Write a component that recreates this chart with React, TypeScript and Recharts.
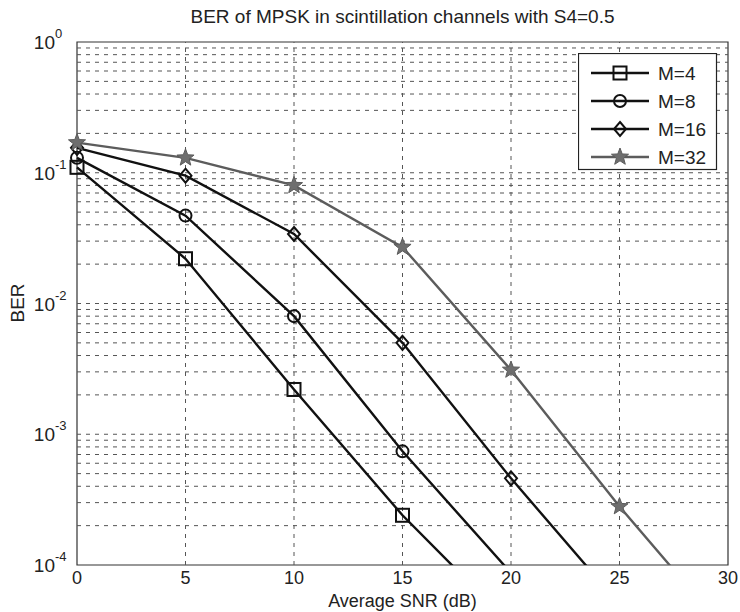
import React from 'react';
import {
  LineChart,
  Line,
  XAxis,
  YAxis,
  ReferenceLine,
  ReferenceArea,
} from 'recharts';

const snr = [0, 5, 10, 15, 20, 25, 30];
const berM4 = [0.11, 0.022, 0.0022, 0.00024, 0.000035, null, null];
const berM8 = [0.13, 0.047, 0.008, 0.00074, 0.000087, null, null];
const berM16 = [0.155, 0.095, 0.034, 0.005, 0.00046, 0.00005, null];
const berM32 = [0.17, 0.13, 0.08, 0.027, 0.0031, 0.00028, 0.00003];

const xTicks = [0, 5, 10, 15, 20, 25, 30];
const yTicks = [1e-4, 1e-3, 1e-2, 1e-1, 1];
const yMinor = [2, 3, 4, 5, 6, 7, 8, 9];

const data = snr.map((x, i) => ({
  snr: x,
  m4: berM4[i],
  m8: berM8[i],
  m16: berM16[i],
  m32: berM32[i],
}));

const series = [
  { key: 'm4', name: 'M=4', marker: 'square', color: '#111' },
  { key: 'm8', name: 'M=8', marker: 'circle', color: '#111' },
  { key: 'm16', name: 'M=16', marker: 'diamond', color: '#111' },
  { key: 'm32', name: 'M=32', marker: 'star', color: '#5c5c5c' },
];

const FONT = '"Liberation Sans", Arial, sans-serif';

const gridLines: number[] = [];
for (let e = -4; e < 0; e++) {
  yMinor.forEach((m) => gridLines.push(m * Math.pow(10, e)));
  if (e > -4) gridLines.push(Math.pow(10, e));
}

const Marker = ({ type, cx, cy, color }: { type: string; cx: number; cy: number; color: string }) => {
  if (type === 'square')
    return <rect x={cx - 6.5} y={cy - 6.5} width={13} height={13} fill="none" stroke={color} strokeWidth={2} />;
  if (type === 'circle') return <circle cx={cx} cy={cy} r={6} fill="none" stroke={color} strokeWidth={2} />;
  if (type === 'diamond')
    return (
      <polygon
        points={`${cx},${cy - 7} ${cx + 6},${cy} ${cx},${cy + 7} ${cx - 6},${cy}`}
        fill="none"
        stroke={color}
        strokeWidth={2}
      />
    );
  const pts: string[] = [];
  for (let k = 0; k < 10; k++) {
    const r = k % 2 === 0 ? 9 : 3.8;
    const a = -Math.PI / 2 + (k * Math.PI) / 5;
    pts.push(`${cx + r * Math.cos(a)},${cy + r * Math.sin(a)}`);
  }
  return <polygon points={pts.join(' ')} fill="#6e6e6e" stroke="#5c5c5c" strokeWidth={1} />;
};

const makeDot = (type: string, color: string) => (props: any) => {
  const { cx, cy, value, index } = props;
  if (value == null || value < 1e-4 || cx == null || cy == null) return <g key={index} />;
  return (
    <g key={index}>
      <Marker type={type} cx={cx} cy={cy} color={color} />
    </g>
  );
};

const YTick = (props: any) => {
  const { x, y, payload } = props;
  const exp = Math.round(Math.log10(payload.value));
  return (
    <g>
      <text x={x - 14} y={y + 7} textAnchor="end" fontSize={19} fill="#222" fontFamily={FONT}>
        10
      </text>
      <text x={x - 14} y={y - 4} textAnchor="start" fontSize={13} fill="#222" fontFamily={FONT}>
        {exp}
      </text>
    </g>
  );
};

const LegendBox = () => (
  <svg width={140} height={118} style={{ display: 'block' }}>
    <rect x={0.5} y={0.5} width={138} height={116} fill="#fff" stroke="#222" strokeWidth={1.2} />
    {series.map((s, i) => {
      const y = 20 + i * 28;
      return (
        <g key={s.key}>
          <line x1={13} x2={71} y1={y} y2={y} stroke={s.color} strokeWidth={2.4} />
          <Marker type={s.marker} cx={42} cy={y} color={s.color} />
          <text x={80} y={y + 7} fontSize={19} fill="#222" fontFamily={FONT}>
            {s.name}
          </text>
        </g>
      );
    })}
  </svg>
);

export default function App() {
  return (
    <div style={{ position: 'absolute', left: 0, top: 0, width: 740, height: 612, background: '#fff', fontFamily: FONT }}>
      <LineChart
        width={740}
        height={612}
        data={data}
        margin={{ top: 42, right: 12, bottom: 17, left: 27 }}
      >
        <XAxis
          dataKey="snr"
          type="number"
          domain={[0, 30]}
          ticks={xTicks}
          height={30}
          axisLine={false}
          tickLine={false}
          tick={{ fontSize: 18, fill: '#222', fontFamily: FONT }}
          tickMargin={0}
        />
        <YAxis
          scale="log"
          domain={[1e-4, 1]}
          ticks={yTicks}
          allowDataOverflow
          width={50}
          axisLine={false}
          tickLine={false}
          tick={<YTick />}
        />
        {gridLines.map((v) => (
          <ReferenceLine key={'h' + v} y={v} stroke="#555" strokeWidth={1} strokeDasharray="4 5" />
        ))}
        {[5, 10, 15, 20, 25].map((v) => (
          <ReferenceLine key={'v' + v} x={v} stroke="#555" strokeWidth={1} strokeDasharray="4 5" />
        ))}
        <ReferenceArea x1={0} x2={30} y1={1e-4} y2={1} fill="none" fillOpacity={0} stroke="#333" strokeWidth={1.2} />
        {series.map((s) => (
          <Line
            key={s.key}
            dataKey={s.key}
            name={s.name}
            stroke={s.color}
            strokeWidth={2.4}
            dot={makeDot(s.marker, s.color)}
            activeDot={false}
            isAnimationActive={false}
          />
        ))}
      </LineChart>
      <div style={{ position: 'absolute', top: 53, left: 578 }}>
        <LegendBox />
      </div>
      <div style={{ position: 'absolute', top: 6, left: 0, width: 805, textAlign: 'center', fontSize: 19, color: '#222' }}>
        BER of MPSK in scintillation channels with S4=0.5
      </div>
      <div style={{ position: 'absolute', top: 591, left: 77, width: 651, textAlign: 'center', fontSize: 18, lineHeight: '20px', color: '#222' }}>
        Average SNR (dB)
      </div>
      <div
        style={{
          position: 'absolute',
          left: 18,
          top: 303,
          transform: 'translate(-50%, -50%) rotate(-90deg)',
          fontSize: 19,
          color: '#222',
        }}
      >
        BER
      </div>
    </div>
  );
}
